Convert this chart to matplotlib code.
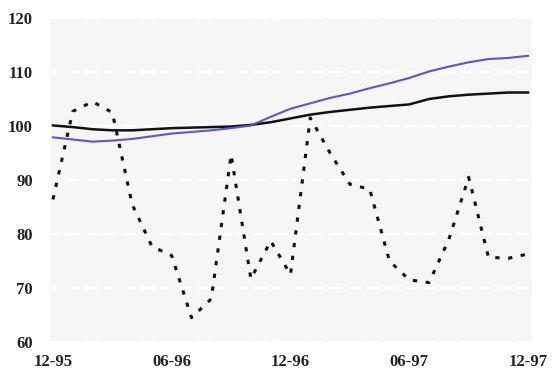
import matplotlib
matplotlib.use("Agg")
import matplotlib.pyplot as plt

# Monthly index values, Dec-95 .. Dec-97
months = list(range(25))
tick_pos = [0, 6, 12, 18, 24]
tick_labels = ["12-95", "06-96", "12-96", "06-97", "12-97"]

series_black = [100.1, 99.8, 99.4, 99.2, 99.2, 99.4, 99.6, 99.7, 99.8, 99.9, 100.2,
                100.7, 101.4, 102.1, 102.6, 103.0, 103.4, 103.7, 104.0, 105.0,
                105.5, 105.8, 106.0, 106.2, 106.2]
series_blue = [97.9, 97.5, 97.1, 97.3, 97.6, 98.1, 98.6, 98.9, 99.2, 99.6, 100.1,
               101.7, 103.2, 104.2, 105.2, 106.0, 107.0, 107.9, 108.9, 110.1,
               111.0, 111.8, 112.4, 112.6, 113.0]
series_dashed = [86.4, 102.7, 104.5, 102.5, 85.5, 77.7, 76.0, 64.5, 68.0, 94.7, 71.7,
                 78.7, 72.5, 101.5, 95.0, 89.2, 88.3, 75.0, 71.5, 71.0, 79.0, 90.5,
                 75.7, 75.5, 76.3]

y_ticks = [60, 70, 80, 90, 100, 110, 120]

fig = plt.figure(figsize=(5.52, 3.76), dpi=100)
fig.patch.set_facecolor("white")
ax = fig.add_axes([48 / 552, 34 / 376, 484 / 552, 324 / 376])
ax.set_facecolor("#f6f6f6")

ax.plot(months, series_black, color="#111111", lw=1.8, zorder=3)
ax.plot(months, series_blue, color="#5a55d2", lw=1.5, zorder=3)
ax.plot(months, series_dashed, color="#111111", lw=2.2,
        linestyle=(0, (1.4, 2.8)), zorder=3)

ax.set_xlim(-0.25, 24.2)
ax.set_ylim(60, 120)
ax.set_yticks(y_ticks)
ax.set_xticks(tick_pos)
ax.set_xticklabels(tick_labels)

ax.grid(axis="y", color="white", lw=1.5, linestyle=(0, (6, 3)))
ax.set_axisbelow(True)
for s in ax.spines.values():
    s.set_visible(False)
ax.axvline(-0.25, color="white", lw=2.5, zorder=1)

lab_font = dict(family="Liberation Serif", weight="bold", size=12)
for t in ax.get_xticklabels() + ax.get_yticklabels():
    t.set_fontfamily(lab_font["family"])
    t.set_fontweight(lab_font["weight"])
    t.set_fontsize(lab_font["size"])
    t.set_color("#222222")
ax.tick_params(axis="both", length=0)
ax.tick_params(axis="y", pad=11)
ax.tick_params(axis="x", pad=9)

fig.savefig("out.png", dpi=100, facecolor="white")
